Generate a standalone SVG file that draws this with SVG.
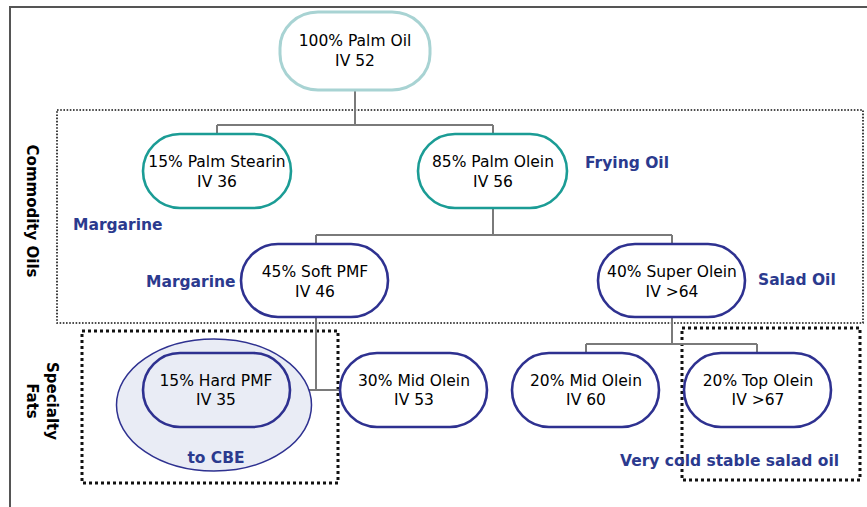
<svg xmlns="http://www.w3.org/2000/svg" width="867" height="507" viewBox="0 0 867 507">
<style>
.frame{fill:none;stroke:#555;stroke-width:2}
.box1{fill:none;stroke:#111;stroke-width:1.6;stroke-dasharray:1.6 1.6}
.box2{fill:none;stroke:#111;stroke-width:3;stroke-dasharray:3 3}
.teal{fill:#fff;stroke:#1b9c95;stroke-width:2.6}
.navy{fill:#fff;stroke:#2e3190;stroke-width:2.6}
.conn{fill:none;stroke:#7a7a7a;stroke-width:2}
.nt{font-family:"DejaVu Sans","Liberation Sans",sans-serif;font-size:15.5px;fill:#000;text-anchor:middle}
.lbl{font-family:"DejaVu Sans","Liberation Sans",sans-serif;font-size:15.5px;font-weight:bold;fill:#2b3a8e}
.side{font-family:"DejaVu Sans","Liberation Sans",sans-serif;font-size:15px;font-weight:bold;fill:#000;text-anchor:middle}
</style>
<rect width="867" height="507" fill="#fff"/>
<path class="frame" d="M10,507 V7 H867"/>

<rect class="box1" x="57" y="110" width="806" height="213"/>
<rect class="box2" x="82" y="331" width="256" height="152"/>
<rect class="box2" x="682" y="328" width="178" height="152"/>

<g id="connectors">
<path class="conn" d="M355,90 V125 M217,125 H493 M217,125 V134 M493,125 V134"/>
<path class="conn" d="M493,208 V235 M316,235 H672 M316,235 V244 M672,235 V244"/>
<path class="conn" d="M316,317 V390 M290,390 H340"/>
<path class="conn" d="M672,317 V344 M586,344 H757 M586,344 V353 M757,344 V353"/>
</g>

<g id="palm-oil">
<rect x="280" y="12" width="150" height="78" rx="38" ry="36" fill="#fff" stroke="#a8d3d3" stroke-width="3"/>
<text class="nt" x="355" y="46">100% Palm Oil</text>
<text class="nt" x="355" y="66">IV 52</text>
</g>

<g id="palm-stearin">
<rect class="teal" x="143" y="134" width="148" height="74" rx="37"/>
<text class="nt" x="217" y="167">15% Palm Stearin</text>
<text class="nt" x="217" y="187">IV 36</text>
</g>

<g id="palm-olein">
<rect class="teal" x="418" y="134" width="149" height="74" rx="37"/>
<text class="nt" x="493" y="167">85% Palm Olein</text>
<text class="nt" x="493" y="187">IV 56</text>
</g>

<g id="soft-pmf">
<rect class="navy" x="241" y="244" width="147" height="73" rx="37"/>
<text class="nt" x="315" y="277">45% Soft PMF</text>
<text class="nt" x="315" y="297">IV 46</text>
</g>

<g id="super-olein">
<rect class="navy" x="598" y="244" width="147" height="73" rx="37"/>
<text class="nt" x="672" y="277">40% Super Olein</text>
<text class="nt" x="672" y="297">IV &gt;64</text>
</g>

<g id="hard-pmf">
<ellipse cx="214" cy="405" rx="97.5" ry="66" fill="#e9ecf5" stroke="#2e3190" stroke-width="1.5"/>
<rect x="143" y="353" width="147" height="74" rx="37" fill="#e9ecf5" stroke="#2e3190" stroke-width="2.6"/>
<text class="nt" x="216" y="386">15% Hard PMF</text>
<text class="nt" x="216" y="405">IV 35</text>
<text class="lbl" x="216" y="463" text-anchor="middle">to CBE</text>
</g>

<g id="mid-olein-30">
<rect class="navy" x="340" y="353" width="147" height="74" rx="37"/>
<text class="nt" x="414" y="386">30% Mid Olein</text>
<text class="nt" x="414" y="405">IV 53</text>
</g>

<g id="mid-olein-20">
<rect class="navy" x="512" y="353" width="147" height="74" rx="37"/>
<text class="nt" x="586" y="386">20% Mid Olein</text>
<text class="nt" x="586" y="405">IV 60</text>
</g>

<g id="top-olein">
<rect class="navy" x="684" y="353" width="147" height="74" rx="37"/>
<text class="nt" x="758" y="386">20% Top Olein</text>
<text class="nt" x="758" y="405">IV &gt;67</text>
</g>

<g id="labels">
<text class="lbl" x="73" y="230">Margarine</text>
<text class="lbl" x="146" y="287">Margarine</text>
<text class="lbl" x="585" y="168">Frying Oil</text>
<text class="lbl" x="758" y="285">Salad Oil</text>
<text class="lbl" x="620" y="466">Very cold stable salad oil</text>
<text class="side" transform="translate(27,211) rotate(90)">Commodity Oils</text>
<text class="side" transform="translate(47,401) rotate(90)">Specialty</text>
<text class="side" transform="translate(27,401) rotate(90)">Fats</text>
</g>
</svg>
